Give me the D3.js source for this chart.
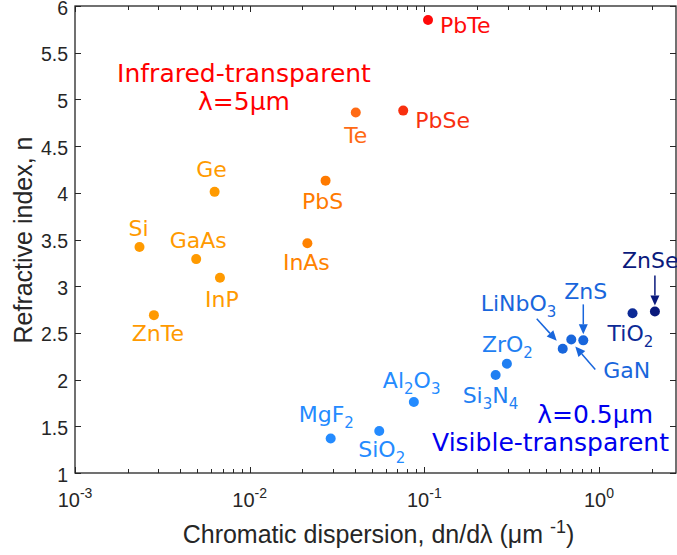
<!DOCTYPE html>
<html>
<head>
<meta charset="utf-8">
<script src="https://cdn.jsdelivr.net/npm/d3@7"></script>
<style>
  html, body { margin: 0; padding: 0; background: #fff; }
  svg { display: block; }
</style>
</head>
<body>
<svg id="chart" width="677" height="555"></svg>
<script>
// Refractive index vs. chromatic dispersion of common optical materials
const materials  = ["PbTe", "PbSe", "Te", "PbS", "InAs", "Ge", "Si", "GaAs", "InP", "ZnTe",
                    "MgF_2", "SiO_2", "Al_2O_3", "Si_3N_4", "ZrO_2", "LiNbO_3", "GaN", "ZnS", "TiO_2", "ZnSe"];
const dispersion = [0.105, 0.0757, 0.0405, 0.0272, 0.0214, 0.0063, 0.00234, 0.00494, 0.00676, 0.00283,
                    0.0291, 0.0552, 0.0871, 0.256, 0.297, 0.62, 0.694, 0.813, 1.556, 2.09];
const refIndex   = [5.85, 4.88, 4.86, 4.13, 3.46, 4.01, 3.42, 3.29, 3.09, 2.69,
                    1.37, 1.45, 1.76, 2.05, 2.17, 2.33, 2.43, 2.42, 2.71, 2.73];
const yTicks = [1, 1.5, 2, 2.5, 3, 3.5, 4, 4.5, 5, 5.5, 6];
const xDecades = [-3, -2, -1, 0];

// colours per material (warm = infrared group, cool = visible group)
const colours = ["#ff0a0a", "#f8300f", "#ff6a14", "#ff7a00", "#ff8200", "#ff9a00", "#ff9a00", "#ff9a00", "#ff9a00", "#ff9a00",
                 "#248bff", "#248bff", "#248bff", "#1f7ff2", "#1f7ff2", "#1866dc", "#1866dc", "#1866dc", "#0c2a96", "#0a1a7c"];

// label placement relative to each dot: [dx, dy, anchor]
const labelOffsets = [[12, 13, "start"], [12, 17, "start"], [0, 31, "middle"], [-3, 28, "middle"], [-1, 27, "middle"],
                      [-3, -15, "middle"], [-1, -11, "middle"], [2, -11, "middle"], [2, 29, "middle"], [4, 26, "middle"],
                      [-32, -16, "start"], [-21, 26, "start"], [-31, -14, "start"], [-33, 28, "start"], [-25, -12, "start"],
                      [-82, -38, "start"], [32, 39, "start"], [-19, -41, "start"], [-25, 28, "start"], [-33, -43, "start"]];

// pointer arrows: material, tail offset, tip offset (relative to the dot)
const arrows = [
  { name: "LiNbO_3", tail: [-26, -30], tip: [-6, -8] },
  { name: "ZnS",     tail: [0, -36],   tip: [0, -6] },
  { name: "GaN",     tail: [24, 30],   tip: [4, 7] },
  { name: "ZnSe",    tail: [0, -36],   tip: [0, -6] }
];

const svg = d3.select("#chart");
const plotLeft = 75, plotRight = 676, plotTop = 6, plotBottom = 473;

const x = d3.scaleLog().domain([1e-3, 2.76]).range([plotLeft, plotRight]);
const y = d3.scaleLinear().domain([1, 6]).range([plotBottom, plotTop]);

const axisColor = "#262626";
const tickFont = "'Liberation Sans', Arial, Helvetica, sans-serif";
const labelFont = "'DejaVu Sans', Verdana, sans-serif";

// minor + major log ticks
const xTickVals = x.ticks();
const isMajor = v => Math.abs(Math.log10(v) - Math.round(Math.log10(v))) < 1e-9;

const axes = svg.append("g");
// bottom and top ticks pointing inward
xTickVals.forEach(v => {
  const len = isMajor(v) ? 6 : 4;
  const px = Math.round(x(v)) + 0.5;
  axes.append("line").attr("x1", px).attr("x2", px).attr("y1", plotBottom).attr("y2", plotBottom - len)
    .attr("stroke", axisColor).attr("stroke-width", 1);
  axes.append("line").attr("x1", px).attr("x2", px).attr("y1", plotTop).attr("y2", plotTop + len)
    .attr("stroke", axisColor).attr("stroke-width", 1);
});
yTicks.forEach(v => {
  const py = Math.round(y(v)) + 0.5;
  axes.append("line").attr("x1", plotLeft).attr("x2", plotLeft + 6).attr("y1", py).attr("y2", py)
    .attr("stroke", axisColor).attr("stroke-width", 1);
  axes.append("line").attr("x1", plotRight).attr("x2", plotRight - 6).attr("y1", py).attr("y2", py)
    .attr("stroke", axisColor).attr("stroke-width", 1);
});
// axis box
axes.append("rect").attr("x", plotLeft).attr("y", plotTop).attr("width", plotRight - plotLeft).attr("height", plotBottom - plotTop)
  .attr("fill", "none").attr("stroke", axisColor).attr("stroke-width", 1.3);

// y tick labels
svg.append("g").selectAll("text").data(yTicks).join("text")
  .attr("x", plotLeft - 7).attr("y", d => y(d) + 8.5)
  .attr("text-anchor", "end").attr("font-family", tickFont).attr("font-size", 19.5).attr("fill", axisColor)
  .text(d => d3.format("~g")(d));

// x tick labels as powers of ten
const xl = svg.append("g").selectAll("text").data(xDecades).join("text")
  .attr("x", d => x(Math.pow(10, d))).attr("y", 507)
  .attr("text-anchor", "middle").attr("font-family", tickFont).attr("font-size", 20).attr("fill", axisColor);
xl.append("tspan").text("10");
xl.append("tspan").attr("dy", -9).attr("font-size", 14).text(d => d === 0 ? "0" : "-" + Math.abs(d));

// axis titles
const xt = svg.append("text").attr("x", (plotLeft + plotRight) / 2 + 3).attr("y", 543)
  .attr("text-anchor", "middle").attr("font-family", tickFont).attr("font-size", 25).attr("fill", axisColor);
xt.append("tspan").text("Chromatic dispersion, dn/dλ (μm ");
xt.append("tspan").attr("dy", -10).attr("font-size", 18).text("-1");
xt.append("tspan").attr("dy", 10).text(")");

svg.append("text").attr("transform", "translate(32,240) rotate(-90)")
  .attr("text-anchor", "middle").attr("font-family", tickFont).attr("font-size", 25).attr("fill", axisColor)
  .text("Refractive index, n");

// data points
const pts = materials.map((m, i) => ({ name: m, cx: x(dispersion[i]), cy: y(refIndex[i]), color: colours[i], off: labelOffsets[i] }));

svg.append("g").selectAll("circle").data(pts).join("circle")
  .attr("cx", d => d.cx).attr("cy", d => d.cy).attr("r", 5).attr("fill", d => d.color);

// labels with chemical subscripts ("_n")
const lab = svg.append("g").selectAll("text").data(pts).join("text")
  .attr("x", d => d.cx + d.off[0]).attr("y", d => d.cy + d.off[1])
  .attr("text-anchor", d => d.off[2]).attr("font-family", labelFont).attr("font-size", 22)
  .attr("fill", d => d.color);
lab.each(function (d) {
  const t = d3.select(this);
  const parts = d.name.split(/(_\d)/).filter(s => s.length);
  let lowered = false;
  parts.forEach(p => {
    if (p[0] === "_") {
      t.append("tspan").attr("dy", lowered ? 0 : 6).attr("font-size", 15).text(p.slice(1));
      lowered = true;
    } else {
      t.append("tspan").attr("dy", lowered ? -6 : 0).text(p);
      lowered = false;
    }
  });
});

// pointer arrows
const byName = Object.fromEntries(pts.map(p => [p.name, p]));
arrows.forEach(a => {
  const p = byName[a.name];
  const x1 = p.cx + a.tail[0], y1 = p.cy + a.tail[1];
  const x2 = p.cx + a.tip[0], y2 = p.cy + a.tip[1];
  const ang = Math.atan2(y2 - y1, x2 - x1);
  const headLen = 10, headW = 4.5;
  const bx = x2 - headLen * Math.cos(ang), by = y2 - headLen * Math.sin(ang);
  svg.append("line").attr("x1", x1).attr("y1", y1).attr("x2", bx).attr("y2", by)
    .attr("stroke", p.color).attr("stroke-width", 1.5);
  const nx = -Math.sin(ang) * headW, ny = Math.cos(ang) * headW;
  svg.append("path")
    .attr("d", `M${x2},${y2}L${bx + nx},${by + ny}L${bx - nx},${by - ny}Z`)
    .attr("fill", p.color);
});

// group annotations
const ir = svg.append("g").attr("font-family", labelFont).attr("font-size", 25).attr("fill", "#ff0000")
  .attr("text-anchor", "middle");
ir.append("text").attr("x", 244).attr("y", 82).text("Infrared-transparent");
ir.append("text").attr("x", 244).attr("y", 110).text("λ=5μm");

const vis = svg.append("g").attr("font-family", labelFont).attr("font-size", 25).attr("fill", "#0000ee")
  .attr("text-anchor", "end");
vis.append("text").attr("x", 653).attr("y", 423).text("λ=0.5μm");
vis.append("text").attr("x", 669).attr("y", 451).text("Visible-transparent");
</script>
</body>
</html>
